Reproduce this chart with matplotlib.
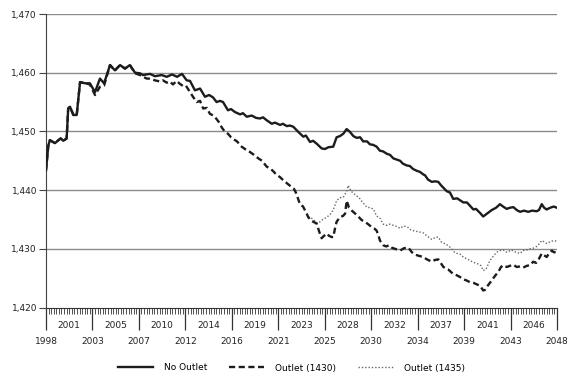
import matplotlib
matplotlib.use("Agg")
import matplotlib.pyplot as plt
from matplotlib.transforms import blended_transform_factory

# quarter index (0 = first quarter shown, 198 = last) and level values
no_outlet_q = [0.0, 0.9, 1.5, 3.5, 4.8, 5.7, 6.7, 8.0, 8.6, 9.3, 10.6, 11.9, 13.2, 15.1,
               17.0, 19.0, 20.9, 22.5, 24.8, 26.7, 28.7, 30.6, 32.5, 34.5, 36.4, 37.6,
               40.3, 42.2, 44.8, 46.8, 48.8, 50.8, 52.7, 54.5, 55.8, 57.7, 59.7, 61.6,
               63.2, 64.7, 66.1, 67.4, 68.6, 70.5, 71.7, 73.2, 75.2, 76.3, 77.8, 79.7,
               81.4, 82.9, 84.1, 85.5, 87.5, 88.7, 90.7, 91.8, 93.3, 94.5, 95.8, 97.8,
               99.7, 100.7, 102.3, 103.5, 104.9, 106.8, 108.1, 109.4, 111.3, 112.6,
               113.9, 115.2, 116.5, 117.8, 119.1, 120.4, 121.7, 122.9, 124.4, 125.5,
               126.8, 128.1, 129.4, 130.6, 132.0, 133.3, 134.6, 135.9, 137.2, 138.3,
               139.8, 141.0, 142.2, 143.6, 144.9, 146.1, 146.9, 148.0, 149.5, 150.7,
               152.0, 153.1, 155.3, 156.5, 157.8, 159.3, 161.7, 163.1, 165.6, 166.6,
               168.2, 169.4, 170.9, 172.7, 174.4, 175.9, 177.1, 178.5, 179.8, 181.1,
               182.4, 183.7, 185.2, 186.9, 188.3, 190.1, 191.0, 192.1, 193.0, 194.0,
               194.9, 196.0, 196.8, 197.9]
no_outlet = [1443.4, 1447.6, 1448.5, 1448.0, 1448.5, 1448.8, 1448.4, 1448.8, 1453.9, 1454.2,
             1452.8, 1452.8, 1458.4, 1458.2, 1458.2, 1456.7, 1459.0, 1458.2, 1461.3, 1460.4,
             1461.3, 1460.7, 1461.3, 1460.0, 1459.9, 1459.6, 1459.8, 1459.4, 1459.6, 1459.3,
             1459.7, 1459.3, 1459.8, 1458.7, 1458.6, 1457.0, 1457.3, 1455.9, 1456.2, 1455.8,
             1455.0, 1455.2, 1455.0, 1453.6, 1453.8, 1453.3, 1452.9, 1453.1, 1452.5, 1452.7,
             1452.3, 1452.2, 1452.4, 1451.9, 1451.3, 1451.5, 1451.1, 1451.3, 1450.9, 1451.0,
             1450.8, 1449.9, 1449.1, 1449.3, 1448.2, 1448.4, 1447.9, 1447.1, 1447.0, 1447.3,
             1447.4, 1449.0, 1449.2, 1449.6, 1450.4, 1449.9, 1449.2, 1448.9, 1449.0, 1448.3,
             1448.3, 1447.8, 1447.7, 1447.4, 1446.7, 1446.6, 1446.2, 1446.0, 1445.4, 1445.2,
             1445.0, 1444.5, 1444.2, 1444.1, 1443.6, 1443.3, 1443.1, 1442.7, 1442.5, 1441.8,
             1441.4, 1441.5, 1441.4, 1440.8, 1439.8, 1439.6, 1438.5, 1438.6, 1437.9, 1437.9,
             1436.7, 1436.8, 1436.1, 1435.5, 1436.0, 1436.6, 1437.0, 1437.6, 1437.2, 1436.8,
             1437.0, 1437.1, 1436.6, 1436.3, 1436.5, 1436.3, 1436.5, 1436.4, 1436.6, 1437.6,
             1437.0, 1436.7, 1436.9, 1437.1, 1437.2, 1437.0]

outlet_1430_q = [0.0, 0.9, 1.5, 3.5, 4.8, 5.7, 6.7, 8.0, 8.6, 9.3, 10.6, 11.9, 13.2, 15.1,
                 17.0, 19.0, 20.9, 22.5, 24.8, 26.7, 28.7, 30.6, 32.5, 34.5, 36.4, 39.0,
                 40.3, 42.2, 44.2, 45.3, 46.8, 48.0, 49.2, 50.6, 51.9, 53.2, 54.2, 55.8,
                 57.1, 58.4, 59.7, 60.9, 62.3, 63.5, 64.8, 65.9, 66.8, 68.2, 69.4, 70.5,
                 71.7, 72.6, 74.0, 75.8, 77.1, 78.3, 79.0, 80.6, 82.3, 83.7, 85.5, 86.8,
                 88.1, 89.1, 90.7, 91.9, 93.0, 95.2, 96.1, 96.9, 98.4, 99.6, 101.0, 101.6,
                 102.7, 103.6, 104.9, 105.8, 106.2, 106.8, 107.7, 108.8, 109.7, 110.7,
                 111.3, 112.0, 112.6, 113.9, 115.1, 115.9, 116.5, 117.4, 118.5, 119.8,
                 121.0, 122.3, 123.6, 124.8, 126.2, 127.1, 128.1, 128.8, 129.4, 130.7,
                 131.8, 132.9, 133.9, 135.2, 137.2, 138.7, 140.4, 141.8, 143.0, 144.5,
                 146.2, 147.6, 149.5, 150.7, 152.0, 153.1, 154.0, 155.8, 157.8, 159.1,
                 160.4, 161.7, 163.0, 164.3, 165.6, 166.6, 168.2, 169.4, 170.1, 171.3,
                 172.7, 174.0, 175.3, 176.3, 177.2, 178.5, 179.8, 181.0, 182.4, 183.7,
                 184.9, 186.3, 187.5, 188.8, 189.9, 191.0, 192.1, 193.0, 194.0, 194.9,
                 196.0, 196.8, 197.9]
outlet_1430 = [1443.4, 1447.6, 1448.5, 1448.0, 1448.5, 1448.8, 1448.4, 1448.8, 1453.9, 1454.2,
               1452.8, 1452.8, 1458.4, 1458.2, 1458.0, 1456.2, 1457.6, 1457.8, 1461.3, 1460.4,
               1461.3, 1460.7, 1461.3, 1459.9, 1459.6, 1459.0, 1459.0, 1458.7, 1458.5, 1458.7,
               1458.3, 1458.5, 1458.0, 1458.6, 1458.1, 1457.7, 1457.8, 1456.7, 1455.8, 1455.0,
               1455.2, 1453.9, 1454.0, 1453.0, 1452.7, 1452.2, 1451.7, 1450.6, 1449.9, 1449.6,
               1449.0, 1448.7, 1448.3, 1447.4, 1447.0, 1446.6, 1446.5, 1446.0, 1445.4, 1445.0,
               1444.0, 1443.7, 1443.2, 1442.7, 1442.2, 1441.7, 1441.3, 1440.5, 1440.2, 1439.5,
               1437.6, 1437.2, 1436.0, 1435.4, 1434.8, 1434.6, 1434.3, 1433.0, 1432.5, 1431.8,
               1432.2, 1432.6, 1432.2, 1432.0, 1432.0, 1433.5, 1434.6, 1435.4, 1435.6, 1436.0,
               1438.2, 1437.0, 1436.5, 1436.0, 1435.5, 1434.9, 1434.6, 1434.2, 1433.7, 1433.5,
               1433.1, 1432.3, 1431.4, 1430.6, 1430.4, 1430.6, 1430.2, 1430.0, 1429.7, 1430.1,
               1430.2, 1429.4, 1429.0, 1428.8, 1428.6, 1428.2, 1427.8, 1428.1, 1428.2, 1427.5,
               1426.9, 1426.5, 1425.7, 1425.5, 1425.2, 1424.8, 1424.6, 1424.3, 1424.2, 1424.0,
               1423.7, 1422.9, 1423.0, 1423.8, 1424.6, 1425.4, 1426.1, 1426.9, 1427.2, 1426.9,
               1427.1, 1427.3, 1426.9, 1427.0, 1426.8, 1427.1, 1427.2, 1427.8, 1427.6, 1428.3,
               1429.2, 1428.9, 1428.6, 1429.2, 1429.7, 1429.4, 1429.5]

outlet_1435_q = [101.6, 102.3, 103.6, 104.9, 106.2, 107.3, 108.8, 110.0, 111.3, 112.6, 113.9,
                 115.2, 116.5, 117.1, 118.2, 119.1, 120.4, 121.7, 122.9, 124.3, 125.5, 126.8,
                 128.1, 129.4, 130.7, 132.0, 133.3, 134.6, 135.9, 137.2, 138.7, 140.4, 141.4,
                 143.0, 144.5, 146.2, 147.6, 149.5, 150.7, 152.0, 153.1, 155.3, 156.5, 158.5,
                 160.4, 161.7, 163.1, 164.3, 165.6, 167.5, 168.6, 169.4, 170.5, 172.0, 173.6,
                 174.6, 175.9, 177.2, 178.6, 180.4, 182.1, 183.7, 184.8, 186.3, 187.5, 188.8,
                 190.1, 191.0, 192.1, 193.0, 194.0, 195.3, 196.6, 197.9]
outlet_1435 = [1435.4, 1435.4, 1435.0, 1434.4, 1434.6, 1435.0, 1435.4, 1435.8, 1436.6, 1438.2,
               1438.7, 1438.8, 1439.8, 1440.8, 1439.8, 1439.5, 1439.0, 1438.5, 1437.8, 1437.1,
               1437.0, 1436.8, 1435.6, 1435.2, 1434.2, 1434.0, 1434.2, 1434.0, 1433.8, 1433.5,
               1433.9, 1433.6, 1433.2, 1433.0, 1432.9, 1432.7, 1432.2, 1431.6, 1431.9, 1432.0,
               1431.2, 1430.7, 1430.3, 1429.3, 1429.1, 1428.6, 1428.3, 1428.0, 1427.7, 1427.4,
               1427.1, 1426.3, 1426.5, 1428.0, 1428.9, 1429.4, 1429.7, 1429.8, 1429.4, 1429.8,
               1429.4, 1429.2, 1429.7, 1429.8, 1430.0, 1430.1, 1430.4, 1430.8, 1431.4, 1431.2,
               1430.9, 1431.2, 1431.4, 1431.3]

lower_labels = ["1998", "2003", "2007", "2012", "2016", "2021", "2025", "2030", "2034",
                "2039", "2043", "2048"]
upper_labels = ["2001", "2005", "2010", "2014", "2019", "2023", "2028", "2032", "2037",
                "2041", "2046"]
n_quarters = 199
y_ticks = [1420, 1430, 1440, 1450, 1460, 1470]

fig = plt.figure(figsize=(5.69, 3.76), dpi=100)
ax = fig.add_axes([46 / 569, 1 - 307.5 / 376, 511 / 569, (307.5 - 14) / 376])

ink = "#1c1c1c"
ax.plot(no_outlet_q, no_outlet, color=ink, lw=1.7, label="No Outlet", zorder=4)
ax.plot(outlet_1430_q, outlet_1430, color=ink, lw=1.7, dashes=(2.6, 1.5),
        label="Outlet (1430)", zorder=3)
ax.plot(outlet_1435_q, outlet_1435, color="#666666", lw=1.0, dashes=(1.0, 1.4),
        label="Outlet (1435)", zorder=2)

ax.set_xlim(0, n_quarters - 1)
ax.set_ylim(y_ticks[0], y_ticks[-1])
ax.set_yticks(y_ticks)
ax.set_yticklabels([f"{v:,}" for v in y_ticks])
for v in y_ticks[1:]:
    ax.axhline(v, color="#8a8a8a", lw=1.0, zorder=1)

for side in ("top", "right"):
    ax.spines[side].set_visible(False)
ax.spines["left"].set_color("#444444")
ax.spines["bottom"].set_color("#333333")
ax.tick_params(axis="y", labelsize=6.5, length=5, color="#444444", labelcolor="#222222", pad=1.5)

# long ticks between label pairs, short ticks every quarter
long_pos = list(range(0, n_quarters, 18))
ax.set_xticks(long_pos)
ax.set_xticklabels([])
ax.set_xticks(range(n_quarters), minor=True)
ax.tick_params(axis="x", which="major", length=16, width=0.9, color="#333333")
ax.tick_params(axis="x", which="minor", length=4.5, width=0.6, color="#333333")

trans = blended_transform_factory(ax.transData, fig.transFigure)
for i, lab in enumerate(lower_labels):
    ax.text(i * 18, 1 - 341 / 376, lab, transform=trans, ha="center", va="center",
            fontsize=6.5, color="#222222")
for i, lab in enumerate(upper_labels):
    ax.text(9 + i * 18, 1 - 326 / 376, lab, transform=trans, ha="center", va="center",
            fontsize=6.5, color="#222222")

fig.legend(loc="center", bbox_to_anchor=(0.512, 1 - 368 / 376), ncol=3, frameon=False,
           fontsize=6.5, handlelength=3.9, handletextpad=1.2, columnspacing=2.4)

fig.savefig("out.png", dpi=100)
